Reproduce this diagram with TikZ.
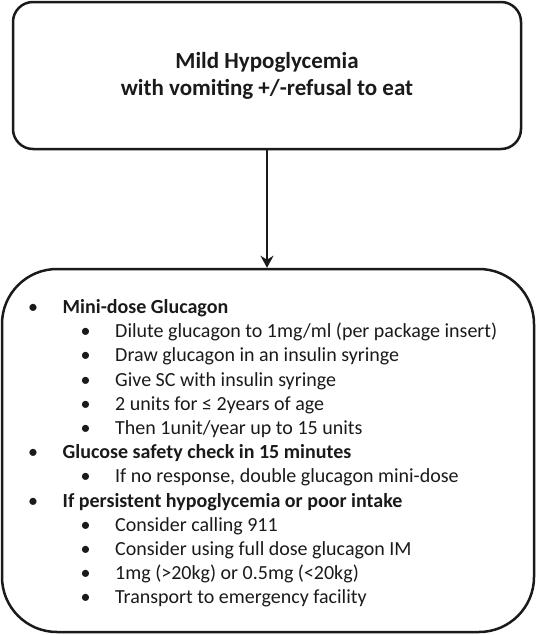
\documentclass[tikz,border=0pt]{standalone}
\usepackage{fontspec}
\setmainfont{Carlito}
\usetikzlibrary{arrows.meta}
\definecolor{ink}{HTML}{1A1A1A}
\begin{document}
\begin{tikzpicture}[x=1pt,y=-1pt,
  boxstyle/.style={draw=ink, line width=2.5pt, inner sep=0pt, text=ink},
  txt/.style={anchor=base west, inner sep=0pt, text=ink, font=\fontsize{20}{24}\selectfont},
  txtb/.style={anchor=base west, inner sep=0pt, text=ink, font=\fontsize{20}{24}\selectfont\bfseries},
  bul/.style={anchor=base, inner sep=0pt, text=ink, font=\fontsize{20}{24}\selectfont},
  conn/.style={draw=ink, line width=2.4pt, -{Stealth[length=12pt,width=13pt,inset=4pt]}}
  ]
\useasboundingbox (0,0) rectangle (536,635);
\node[boxstyle, rounded corners=20pt, minimum width=508pt, minimum height=147pt, align=center,
      font=\fontsize{23}{27}\selectfont\bfseries] (top) at (267,75.5)
      {Mild Hypoglycemia\\with vomiting +/-refusal to eat};
\node[boxstyle, rounded corners=55pt, minimum width=532pt, minimum height=363pt] (bot) at (268,450.5) {};
\draw[conn] (top.south) -- (top.south |- bot.north);

% level-1 bullets at x=33, text at 62.5 ; level-2 bullets at 85.5, text at 115
\node[bul] (b1) at (33,313.5) {•};    \node[txtb] (t1) at (62.5,313.5) {Mini-dose Glucagon};
\node[bul] (b2) at (85.5,337.7) {•};  \node[txt] (t2) at (115,337.7) {Dilute glucagon to 1mg/ml (per package insert)};
\node[bul] (b3) at (85.5,361.9) {•};  \node[txt] (t3) at (115,361.9) {Draw glucagon in an insulin syringe};
\node[bul] (b4) at (85.5,386.1) {•};  \node[txt] (t4) at (115,386.1) {Give SC with insulin syringe};
\node[bul] (b5) at (85.5,410.3) {•};  \node[txt] (t5) at (115,410.3) {2 units for ≤ 2years of age};
\node[bul] (b6) at (85.5,434.5) {•};  \node[txt] (t6) at (115,434.5) {Then 1unit/year up to 15 units};
\node[bul] (b7) at (33,458.7) {•};    \node[txtb] (t7) at (62.5,458.7) {Glucose safety check in 15 minutes};
\node[bul] (b8) at (85.5,482.9) {•};  \node[txt] (t8) at (115,482.9) {If no response, double glucagon mini-dose};
\node[bul] (b9) at (33,507.1) {•};    \node[txtb] (t9) at (62.5,507.1) {If persistent hypoglycemia or poor intake};
\node[bul] (b10) at (85.5,531.3) {•}; \node[txt] (t10) at (115,531.3) {Consider calling 911};
\node[bul] (b11) at (85.5,555.5) {•}; \node[txt] (t11) at (115,555.5) {Consider using full dose glucagon IM};
\node[bul] (b12) at (85.5,579.7) {•}; \node[txt] (t12) at (115,579.7) {1mg (>20kg) or 0.5mg (<20kg)};
\node[bul] (b13) at (85.5,603.9) {•}; \node[txt] (t13) at (115,603.9) {Transport to emergency facility};
\end{tikzpicture}
\end{document}
